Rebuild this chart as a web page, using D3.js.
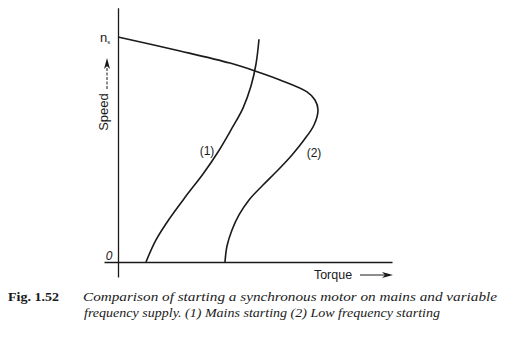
<!DOCTYPE html>
<html>
<head>
<meta charset="utf-8">
<script src="https://cdn.jsdelivr.net/npm/d3@7"></script>
<style>
  html, body { margin: 0; padding: 0; background: #fff; }
  svg { display: block; }
</style>
</head>
<body>
<svg id="chart" width="505" height="342"></svg>
<script>
// ---- Data (torque in arbitrary units, speed as fraction of n_s) ----
const curveMainsTorque = [0.28, 0.38, 0.52, 0.68, 0.85, 1.00, 1.13, 1.25, 1.33, 1.38, 1.41];
const curveMainsSpeed  = [0.00, 0.098, 0.196, 0.293, 0.391, 0.489, 0.587, 0.684, 0.782, 0.880, 0.990];

const curveLowFreqTorque = [0.00, 0.62, 1.12, 1.37, 1.62, 1.89, 1.97, 2.00, 1.96, 1.86, 1.74, 1.60, 1.45, 1.31, 1.21, 1.14, 1.09, 1.07];
const curveLowFreqSpeed  = [1.00, 0.938, 0.884, 0.849, 0.809, 0.756, 0.720, 0.676, 0.609, 0.542, 0.476, 0.409, 0.342, 0.276, 0.209, 0.142, 0.071, 0.00];

const curveLabels = ["(1)", "(2)"];
const curveLabelTorque = [0.89, 1.96];
const curveLabelSpeed  = [0.493, 0.484];

const yTickLabels = ["0", "n"];
const yTickValues = [0, 1];

const xAxisTitle = "Torque";
const yAxisTitle = "Speed";
const figNumber = "Fig. 1.52";
const captionLines = [
  "Comparison of starting a synchronous motor on mains and variable",
  "frequency supply.  (1) Mains starting (2) Low frequency starting"
];

// ---- Scales ----
const x = d3.scaleLinear().domain([0, 2.8]).range([118, 398]);
const y = d3.scaleLinear().domain([0, 1]).range([262, 37]);

const svg = d3.select("#chart");
const ink = "#1a1a1a";

// Axes (no ticks), drawn through d3 axis generators
const yAxisScale = d3.scaleLinear().domain([-0.067, 1.13]).range([y(-0.067), y(1.13)]);
const xAxisScale = d3.scaleLinear().domain([-0.14, 2.74]).range([x(-0.14), x(2.74)]);

svg.append("g")
  .attr("transform", `translate(${x(0)},0)`)
  .call(d3.axisLeft(yAxisScale).tickValues([]).tickSizeOuter(0))
  .call(g => g.select(".domain").attr("stroke", ink).attr("stroke-width", 1.3));

svg.append("g")
  .attr("transform", `translate(0,${y(0)})`)
  .call(d3.axisBottom(xAxisScale).tickValues([]).tickSizeOuter(0))
  .call(g => g.select(".domain").attr("stroke", ink).attr("stroke-width", 1.3));

// Tick labels
svg.append("text")
  .attr("x", x(0) - 9).attr("y", y(yTickValues[0]) - 2)
  .attr("text-anchor", "middle")
  .attr("font-family", "Liberation Sans, Arial, sans-serif")
  .attr("font-style", "italic")
  .attr("font-size", 12)
  .attr("fill", ink)
  .text(yTickLabels[0]);

const ns = svg.append("text")
  .attr("x", x(0) - 18).attr("y", y(yTickValues[1]) + 5)
  .attr("font-family", "Liberation Sans, Arial, sans-serif")
  .attr("font-size", 13)
  .attr("fill", ink)
  .text(yTickLabels[1]);
ns.append("tspan").attr("font-size", 6).attr("dy", 2).text("s");

// Curves
const line = d3.line().x(d => x(d[0])).y(d => y(d[1])).curve(d3.curveCatmullRom.alpha(0.5));
const mains = curveMainsTorque.map((t, i) => [t, curveMainsSpeed[i]]);
const lowf = curveLowFreqTorque.map((t, i) => [t, curveLowFreqSpeed[i]]);

svg.append("path").datum(mains)
  .attr("d", line).attr("fill", "none")
  .attr("stroke", ink).attr("stroke-width", 1.6);
svg.append("path").datum(lowf)
  .attr("d", line).attr("fill", "none")
  .attr("stroke", ink).attr("stroke-width", 1.6);

// Curve labels
svg.selectAll("text.clabel").data(curveLabels).enter().append("text")
  .attr("class", "clabel")
  .attr("x", (d, i) => x(curveLabelTorque[i]))
  .attr("y", (d, i) => y(curveLabelSpeed[i]) + 4)
  .attr("text-anchor", "middle")
  .attr("font-family", "Liberation Sans, Arial, sans-serif")
  .attr("font-size", 12)
  .attr("fill", ink)
  .text(d => d);

// Axis titles
svg.append("text")
  .attr("transform", `translate(${x(0) - 10},${112}) rotate(-90)`)
  .attr("text-anchor", "middle")
  .attr("font-family", "Liberation Sans, Arial, sans-serif")
  .attr("font-size", 13)
  .attr("fill", ink)
  .text(yAxisTitle);

// Speed arrow (dashed, pointing up)
svg.append("line")
  .attr("x1", 107).attr("x2", 107).attr("y1", 89).attr("y2", 64)
  .attr("stroke", ink).attr("stroke-width", 1).attr("stroke-dasharray", "3,1.5");
svg.append("path")
  .attr("d", "M107,58 L104,69 L107,66 L110,69 Z")
  .attr("fill", ink);

svg.append("text")
  .attr("x", 333).attr("y", 279)
  .attr("text-anchor", "middle")
  .attr("font-family", "Liberation Sans, Arial, sans-serif")
  .attr("font-size", 12.5)
  .attr("fill", ink)
  .text(xAxisTitle);

// Torque arrow (pointing right)
svg.append("line")
  .attr("x1", 360).attr("x2", 388).attr("y1", 275).attr("y2", 275)
  .attr("stroke", ink).attr("stroke-width", 1);
svg.append("path")
  .attr("d", "M393,275 L382,272 L385,275 L382,278 Z")
  .attr("fill", ink);

// Caption
svg.append("text")
  .attr("x", 8).attr("y", 301)
  .attr("font-family", "Liberation Serif, Times New Roman, serif")
  .attr("font-weight", "bold")
  .attr("font-size", 13)
  .attr("fill", ink)
  .attr("textLength", 51).attr("lengthAdjust", "spacingAndGlyphs")
  .text(figNumber);

svg.append("text")
  .attr("x", 83).attr("y", 301)
  .attr("font-family", "Liberation Serif, Times New Roman, serif")
  .attr("font-style", "italic")
  .attr("font-size", 13)
  .attr("fill", ink)
  .attr("textLength", 414).attr("lengthAdjust", "spacingAndGlyphs")
  .text(captionLines[0]);

svg.append("text")
  .attr("x", 84).attr("y", 317)
  .attr("font-family", "Liberation Serif, Times New Roman, serif")
  .attr("font-style", "italic")
  .attr("font-size", 13)
  .attr("fill", ink)
  .attr("textLength", 356).attr("lengthAdjust", "spacingAndGlyphs")
  .text(captionLines[1]);
</script>
</body>
</html>
